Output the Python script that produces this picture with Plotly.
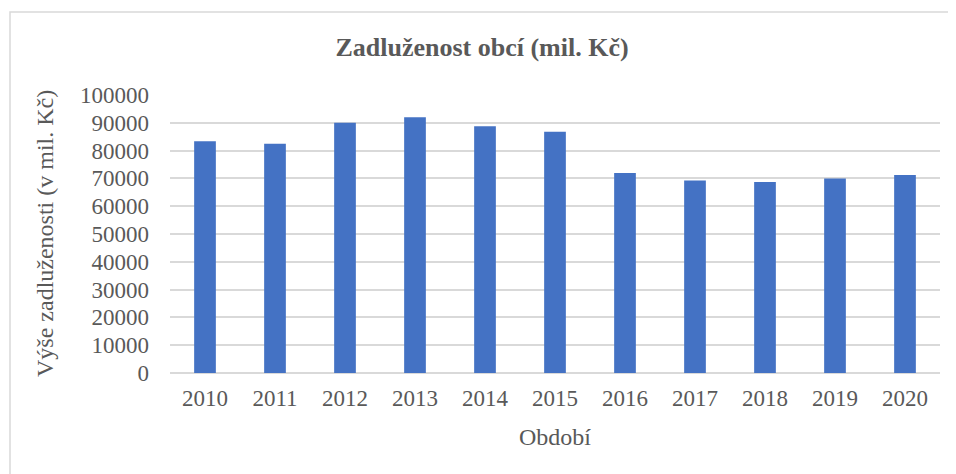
import plotly.graph_objects as go

years = ["2010", "2011", "2012", "2013", "2014", "2015", "2016", "2017", "2018", "2019", "2020"]
debt = [83350, 82500, 90000, 92000, 88800, 86800, 71900, 69200, 68700, 70000, 71200]
y_ticks = [0, 10000, 20000, 30000, 40000, 50000, 60000, 70000, 80000, 90000, 100000]

OFF = 8  # page body margin
W, H = 956 - OFF, 474 - OFF
L, R, T, B = 170 - OFF, 16, 95 - OFF, 101
pw, ph = W - L - R, H - T - B

def px_x(x):  # page pixel -> paper
    return (x - OFF - L) / pw

def px_y(y):
    return (H - B - (y - OFF)) / ph

font_fam = "Liberation Serif"
gray = "#595959"

fig = go.Figure(go.Bar(x=years, y=debt, marker=dict(color="#4472C4", line=dict(width=0))))

fig.update_layout(
    width=W, height=H,
    margin=dict(l=L, r=R, t=T, b=B),
    paper_bgcolor="white", plot_bgcolor="white",
    bargap=0.69,
    showlegend=False,
    font=dict(family=font_fam, color=gray, size=23),
    title=dict(text="<b>Zadluženost obcí (mil. Kč)</b>", x=0.5, xanchor="center",
               y=1 - (47 - OFF) / H, yanchor="middle", font=dict(size=26, color=gray, family=font_fam)),
)
fig.update_xaxes(type="category", showgrid=False, showline=False, ticks="",
                 ticklabelstandoff=9, tickfont=dict(size=23, color=gray, family=font_fam))
fig.update_yaxes(range=[0, 100000], tickvals=y_ticks, ticktext=[str(v) for v in y_ticks],
                 showgrid=True, gridcolor="#d9d9d9", gridwidth=1.5,
                 zeroline=True, zerolinecolor="#d9d9d9", zerolinewidth=1.5,
                 showline=False, ticks="", ticklabelstandoff=20,
                 tickfont=dict(size=23, color=gray, family=font_fam))

fig.add_annotation(text="Výše zadluženosti (v mil. Kč)", xref="paper", yref="paper",
                   x=px_x(45), y=0.5, textangle=-90, showarrow=False,
                   xanchor="center", yanchor="middle",
                   font=dict(size=24, color=gray, family=font_fam))
fig.add_annotation(text="Období", xref="paper", yref="paper",
                   x=0.5, y=px_y(437), showarrow=False,
                   xanchor="center", yanchor="middle",
                   font=dict(size=24, color=gray, family=font_fam))

fig.add_shape(type="rect", xref="paper", yref="paper",
              x0=px_x(10), x1=px_x(990), y0=px_y(12), y1=px_y(500),
              line=dict(color="#d9d9d9", width=1.5), fillcolor="rgba(0,0,0,0)", layer="below")

fig.write_html("out.html")
